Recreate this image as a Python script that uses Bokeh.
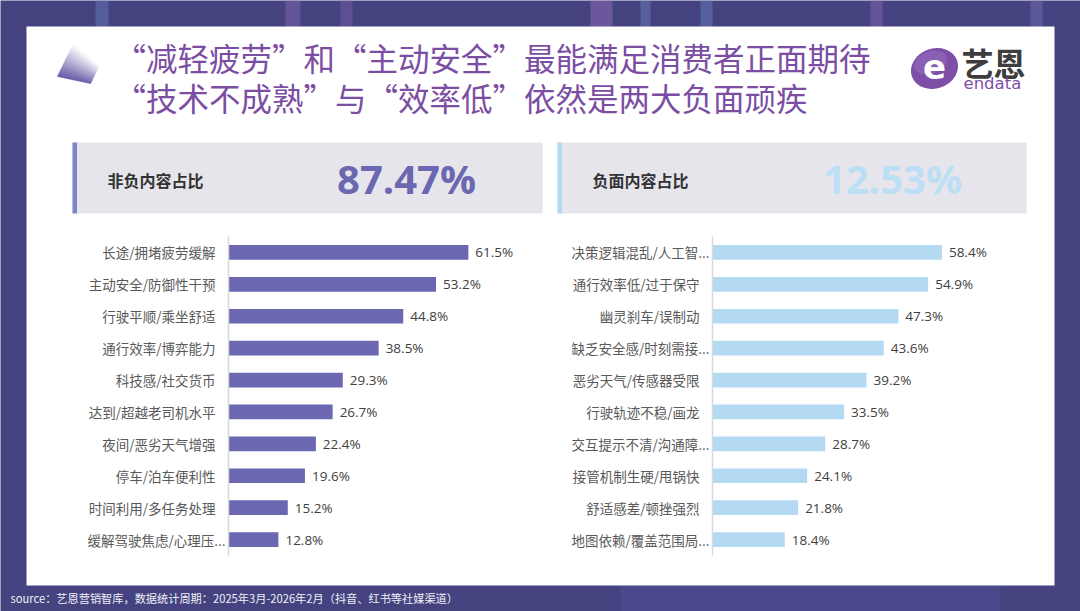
from bokeh.plotting import figure
from bokeh.models import Range1d, ColumnDataSource
from bokeh.embed import file_html
from bokeh.resources import INLINE
from bokeh.core.properties import value

# ---------------- data ----------------
title_lines = ["“减轻疲劳”和“主动安全”最能满足消费者正面期待",
               "“技术不成熟”与“效率低”依然是两大负面顽疾"]
kpi_labels = ["非负内容占比", "负面内容占比"]
kpi_values = ["87.47%", "12.53%"]

pos_labels = ["长途/拥堵疲劳缓解", "主动安全/防御性干预", "行驶平顺/乘坐舒适", "通行效率/博弈能力",
              "科技感/社交货币", "达到/超越老司机水平", "夜间/恶劣天气增强", "停车/泊车便利性",
              "时间利用/多任务处理", "缓解驾驶焦虑/心理压..."]
pos_values = [61.5, 53.2, 44.8, 38.5, 29.3, 26.7, 22.4, 19.6, 15.2, 12.8]

neg_labels = ["决策逻辑混乱/人工智...", "通行效率低/过于保守", "幽灵刹车/误制动", "缺乏安全感/时刻需接...",
              "恶劣天气/传感器受限", "行驶轨迹不稳/画龙", "交互提示不清/沟通障...", "接管机制生硬/甩锅快",
              "舒适感差/顿挫强烈", "地图依赖/覆盖范围局..."]
neg_values = [58.4, 54.9, 47.3, 43.6, 39.2, 33.5, 28.7, 24.1, 21.8, 18.4]

source_text = "source：艺恩营销智库，数据统计周期：2025年3月-2026年2月（抖音、红书等社媒渠道）"

# ---------------- style ----------------
W, H = 1080, 611
BG = "#44437f"
CJK = "Noto Sans CJK SC"
TITLE_COLOR = "#7b4ea3"
POS_COLOR = "#6b67b1"
NEG_COLOR = "#b4daf3"

p = figure(width=W, height=H, x_range=Range1d(0, W), y_range=Range1d(H, 0),
           output_backend="svg", toolbar_location=None, tools="",
           x_axis_location=None, y_axis_location=None, min_border=0,
           outline_line_color=None, background_fill_color=BG, border_fill_color=BG)
p.grid.visible = False

# ---------------- background card ----------------
p.quad(left=[95, 285, 340, 590, 640, 700, 870, 1030], right=[108, 300, 352, 612, 650, 712, 882, 1042],
       top=0, bottom=26, color=["#6a7fc0", "#8a6ab8", "#7a5fb0", "#9a72c0", "#6f84c8", "#6a86cc", "#8a68b8", "#7a70bb"],
       alpha=0.45, line_color=None)
p.quad(left=[620], right=[1000], top=[585], bottom=[611], color="#5d5aa8", alpha=0.3, line_color=None)
p.quad(left=26, right=1054, top=26, bottom=585, color="white", line_color=None)

# gradient pyramid decoration
A, B, C, D = (73, 43), (99, 65), (90, 83), (57, 76)
n = 14
dark = (101, 86, 165)
xs, ys, cols = [], [], []
for i in range(n):
    t0, t1 = i / n, (i + 1) / n
    P0 = (D[0] + t0 * (A[0] - D[0]), D[1] + t0 * (A[1] - D[1]))
    P1 = (D[0] + t1 * (A[0] - D[0]), D[1] + t1 * (A[1] - D[1]))
    Q0 = (C[0] + t0 * (B[0] - C[0]), C[1] + t0 * (B[1] - C[1]))
    Q1 = (C[0] + t1 * (B[0] - C[0]), C[1] + t1 * (B[1] - C[1]))
    xs.append([P0[0], Q0[0], Q1[0], P1[0]])
    ys.append([P0[1], Q0[1], Q1[1], P1[1]])
    tm = (t0 + t1) / 2
    c = tuple(int(dark[k] + (255 - dark[k]) * tm) for k in range(3))
    cols.append("#%02x%02x%02x" % c)
p.patches(xs=xs, ys=ys, color=cols, line_color=cols, line_width=0.6)

# title
p.text(x=[114, 114], y=[56, 96], text=title_lines, text_font=value(CJK), text_font_size="31.5px",
       text_color=TITLE_COLOR, text_baseline="middle", text_align="left")

# logo
p.ellipse(x=[934], y=[68], width=[48], height=[40], angle=[0.35], color="#7d4fa6", line_color=None)
p.ellipse(x=[930], y=[62], width=[34], height=[22], angle=[0.35], color="#9a72c0", alpha=0.5, line_color=None)
p.text(x=[934], y=[66], text=["e"], text_font=value("DejaVu Sans"), text_font_style="bold",
       text_font_size="34px", text_color="white", text_align="center", text_baseline="middle")
p.text(x=[961], y=[61], text=["艺恩"], text_font=value(CJK), text_font_style="bold",
       text_font_size="32px", text_color="#3d3d3d", text_baseline="middle")
p.text(x=[963], y=[83], text=["endata"], text_font=value("DejaVu Sans"),
       text_font_size="16.5px", text_color="#7d4fa6", text_baseline="middle")

# KPI boxes
p.quad(left=[72, 557], right=[542, 1026], top=142, bottom=213, color="#e6e5eb", line_color=None)
p.quad(left=[72, 557], right=[76.5, 561.5], top=142, bottom=213, color=["#7b86c8", NEG_COLOR], line_color=None)
p.text(x=[107, 592], y=[179, 179], text=kpi_labels, text_font=value(CJK), text_font_style="bold",
       text_font_size="16px", text_color="#333333", text_baseline="middle")
p.text(x=[406, 892], y=[178, 178], text=kpi_values, text_font=value("Open Sans"), text_font_style="bold",
       text_font_size="40px", text_color=[POS_COLOR, "#bcdff5"], text_baseline="middle", text_align="center")

# ---------------- bar charts (own value / category scales) ----------------
VMAX = 70
BAND_TOP, BAND_H = 236, 31.9
c0 = BAND_TOP + BAND_H / 2
cat_end = -c0 / BAND_H
cat_start = cat_end + H / BAND_H
ranges_x = {}
for name, x0, pw in (("L", 228, 273), ("R", 712, 275)):
    k = pw / VMAX
    ranges_x[name] = Range1d(-x0 / k, (W - x0) / k)
p.extra_x_ranges = ranges_x
p.extra_y_ranges = {"cat": Range1d(cat_start, cat_end)}


def add_chart(name, labels, values, color):
    src = ColumnDataSource(dict(idx=list(range(len(labels))), label=labels, value=values,
                                vtext=["%.1f%%" % v for v in values],
                                loff=[-3 if s.endswith("...") else -13 for s in labels]))
    kw = dict(x_range_name=name, y_range_name="cat")
    p.hbar(y="idx", left=0, right="value", height=0.46, source=src, color=color, line_color=None, **kw)
    p.segment(x0=[0], y0=[-0.5], x1=[0], y1=[len(labels) - 0.5], line_color="#d9d9d9", line_width=1.5, **kw)
    p.text(x="value", y="idx", text="vtext", source=src, x_offset=7, text_baseline="middle",
           text_font=value("Open Sans"), text_font_size="13.5px", text_color="#404040", **kw)
    p.text(x=0, y="idx", text="label", source=src, x_offset="loff", text_baseline="middle", text_align="right",
           text_font=value(CJK), text_font_size="13.5px", text_color="#595959", **kw)


add_chart("L", pos_labels, pos_values, POS_COLOR)
add_chart("R", neg_labels, neg_values, NEG_COLOR)

# ---------------- footer ----------------
p.text(x=[10], y=[597], text=[source_text], text_font=value(CJK), text_font_size="11.2px",
       text_color="#f0f0f8", text_baseline="middle")

open("out.html", "w").write(file_html(p, INLINE))
